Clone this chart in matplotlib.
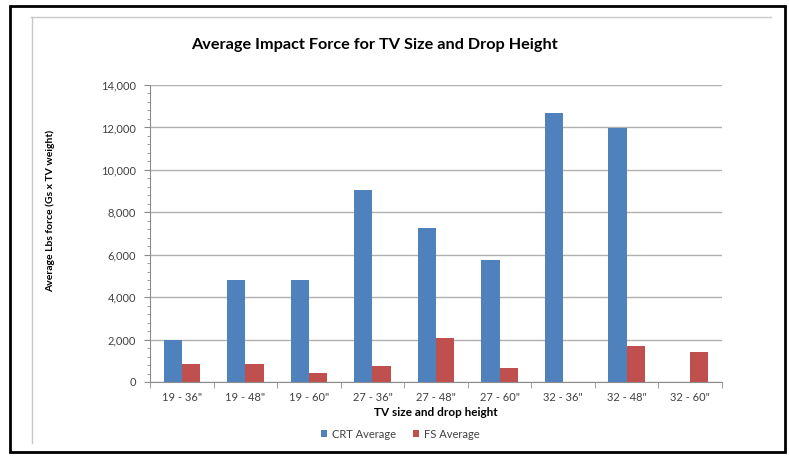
import matplotlib.pyplot as plt
import numpy as np
from matplotlib.patches import Rectangle
from matplotlib.lines import Line2D
from matplotlib.ticker import MultipleLocator, FuncFormatter

# data
categories = ['19 - 36"', '19 - 48"', '19 - 60"', '27 - 36"', '27 - 48"',
              '27 - 60"', '32 - 36"', '32 - 48"', '32 - 60"']
crt_avg = [1990, 4790, 4830, 9070, 7250, 5760, 12700, 11970, 0]
fs_avg = [870, 870, 440, 750, 2070, 650, 0, 1690, 1410]

blue = '#4F81BD'
red = '#C0504D'
txt = '#404040'

plt.rcParams['font.family'] = ['Lato', 'DejaVu Sans']

W, H = 789, 457
fig = plt.figure(figsize=(W / 100, H / 100), dpi=100)

# outer black frame and inner grey chart border
fig.patches.append(Rectangle((10 / W, 1 - 452 / H), 775 / W, 446 / H,
                             transform=fig.transFigure, fill=False,
                             edgecolor='black', linewidth=2))
fig.lines.append(Line2D([31 / W, 771 / W], [1 - 17 / H, 1 - 17 / H],
                        transform=fig.transFigure, color='#c8c8c8', lw=1))
fig.lines.append(Line2D([32 / W, 32 / W], [1 - 17 / H, 1 - 443 / H],
                        transform=fig.transFigure, color='#c8c8c8', lw=1))

ax = fig.add_axes([150 / W, 1 - 382 / H, 572 / W, 297 / H])

x = np.arange(len(categories))
bw = 0.286
ax.bar(x - bw / 2, crt_avg, bw, color=blue, label='CRT Average', zorder=3)
ax.bar(x + bw / 2, fs_avg, bw, color=red, label='FS Average', zorder=3)

ax.set_xlim(-0.5, len(categories) - 0.5)
ax.set_ylim(0, 14000)
ax.yaxis.set_major_locator(MultipleLocator(2000))
ax.yaxis.set_minor_locator(MultipleLocator(400))
ax.yaxis.set_major_formatter(FuncFormatter(lambda v, p: f'{int(v):,}'))
ax.grid(axis='y', color='#b0b0b0', linewidth=1, zorder=0)

ax.set_xticks(x)
ax.set_xticklabels(categories, fontsize=8, color=txt)
ax.set_xticks(np.arange(-0.5, len(categories)), minor=True)
ax.tick_params(axis='x', which='major', length=0, pad=7)
ax.tick_params(axis='x', which='minor', length=4, color='#8c8c8c')
ax.tick_params(axis='y', which='major', length=4, color='#8c8c8c',
               labelsize=8, labelcolor=txt, pad=6)
ax.tick_params(axis='y', which='minor', length=2, color='#8c8c8c')

for s in ['top', 'right']:
    ax.spines[s].set_visible(False)
for s in ['left', 'bottom']:
    ax.spines[s].set_color('#8c8c8c')

fig.text(374 / W, 1 - 45 / H, 'Average Impact Force for TV Size and Drop Height',
         ha='center', va='center', fontsize=11.7, fontweight='bold', color='black')
fig.text(50 / W, 1 - 211 / H, 'Average Lbs force (Gs x TV weight)',
         ha='center', va='center', rotation=90, fontsize=7.5, fontweight='bold')
fig.text(436 / W, 1 - 413 / H, 'TV size and drop height',
         ha='center', va='center', fontsize=8.5, fontweight='bold')

ax.legend(loc='center', bbox_to_anchor=(400 / W, 1 - 434 / H),
          bbox_transform=fig.transFigure, ncol=2, frameon=False,
          fontsize=8, handlelength=0.6, handleheight=0.6, handletextpad=0.4,
          columnspacing=1.5, labelcolor=txt)

fig.savefig('out.png', dpi=100)
